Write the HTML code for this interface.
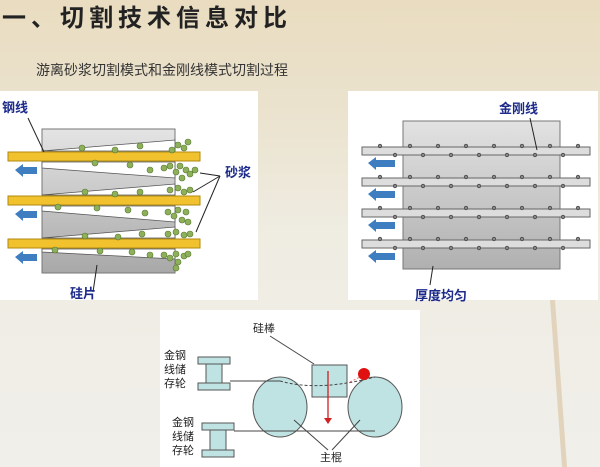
<!DOCTYPE html>
<html><head><meta charset="utf-8"><style>
html,body{margin:0;padding:0}
body{width:600px;height:467px;overflow:hidden;position:relative;font-family:"Liberation Sans","Noto Sans CJK SC",sans-serif;
background:linear-gradient(180deg,#e9dcc0 0%,#ebe3cf 25%,#efece2 50%,#f0efea 100%);}
.t{position:absolute;white-space:nowrap}
</style></head><body>
<div class="t" style="left:2px;top:-2px;font-size:24px;font-weight:bold;color:#222;letter-spacing:5px">一、切割技术信息对比</div>
<div class="t" style="left:36px;top:60px;font-size:14px;color:#333">游离砂浆切割模式和金刚线模式切割过程</div>
<svg width="600" height="467" style="position:absolute;left:0;top:0">
<defs>
<linearGradient id="g1" x1="0" y1="0" x2="0" y2="1"><stop offset="0" stop-color="#e4e4e4"/><stop offset="1" stop-color="#a8a8a8"/></linearGradient>
<linearGradient id="g2" x1="0" y1="0" x2="0" y2="1"><stop offset="0" stop-color="#e2e2e2"/><stop offset="1" stop-color="#b0b0b0"/></linearGradient>
</defs>
<!-- stem -->
<path d="M550 300 L555 300 L567 467 L562 467 Z" fill="#e2d4bc"/>
<!-- left panel -->
<rect x="0" y="91" width="258" height="209" fill="#fff"/>
<rect x="42" y="129" width="133" height="144" fill="url(#g1)" stroke="#777"/>
<g fill="#fff" stroke="#555" stroke-width="0.8">
<polygon points="42,151 175,140 175,151"/>
<polygon points="42,162 175,162 175,178 42,168"/>
<polygon points="42,195 175,184 175,195"/>
<polygon points="42,206 175,206 175,222 42,211"/>
<polygon points="42,238 175,227 175,238"/>
<polygon points="42,249 175,249 175,259 42,252"/>
</g>
<g fill="#f2c12e" stroke="#b08a10" stroke-width="1">
<rect x="8" y="152" width="192" height="9"/>
<rect x="8" y="196" width="192" height="9"/>
<rect x="8" y="239" width="192" height="9"/>
</g>
<g fill="#3d7dc0">
<polygon points="15,170 23,164 23,167 37,167 37,174 23,174 23,177"/>
<polygon points="15,214 23,208 23,211 37,211 37,218 23,218 23,221"/>
<polygon points="15,257 23,251 23,254 37,254 37,261 23,261 23,264"/>
</g>
<g fill="#8db05a" stroke="#5a7a30" stroke-width="0.6">
<circle cx="178" cy="145" r="3"/><circle cx="184" cy="148" r="3"/><circle cx="172" cy="150" r="3"/><circle cx="188" cy="142" r="3"/><circle cx="180" cy="166" r="3"/><circle cx="186" cy="170" r="3"/><circle cx="176" cy="172" r="3"/><circle cx="190" cy="174" r="3"/><circle cx="182" cy="178" r="3"/><circle cx="170" cy="166" r="3"/><circle cx="164" cy="168" r="3"/><circle cx="195" cy="170" r="3"/>
<circle cx="178" cy="188" r="3"/><circle cx="184" cy="192" r="3"/><circle cx="170" cy="190" r="3"/><circle cx="190" cy="190" r="3"/><circle cx="178" cy="210" r="3"/><circle cx="186" cy="212" r="3"/><circle cx="174" cy="216" r="3"/><circle cx="182" cy="220" r="3"/><circle cx="168" cy="212" r="3"/><circle cx="188" cy="222" r="3"/>
<circle cx="176" cy="232" r="3"/><circle cx="184" cy="235" r="3"/><circle cx="168" cy="234" r="3"/><circle cx="190" cy="234" r="3"/><circle cx="176" cy="254" r="3"/><circle cx="184" cy="256" r="3"/><circle cx="170" cy="258" r="3"/><circle cx="178" cy="262" r="3"/><circle cx="164" cy="255" r="3"/><circle cx="188" cy="254" r="3"/><circle cx="176" cy="268" r="3"/>
<circle cx="82" cy="148" r="3"/><circle cx="115" cy="150" r="3"/><circle cx="140" cy="146" r="3"/><circle cx="95" cy="163" r="3"/><circle cx="130" cy="165" r="3"/><circle cx="150" cy="170" r="3"/>
<circle cx="85" cy="192" r="3"/><circle cx="115" cy="194" r="3"/><circle cx="140" cy="192" r="3"/><circle cx="58" cy="207" r="3"/><circle cx="97" cy="208" r="3"/><circle cx="128" cy="210" r="3"/><circle cx="145" cy="213" r="3"/>
<circle cx="85" cy="236" r="3"/><circle cx="118" cy="237" r="3"/><circle cx="142" cy="234" r="3"/><circle cx="55" cy="250" r="3"/><circle cx="100" cy="251" r="3"/><circle cx="132" cy="252" r="3"/><circle cx="150" cy="255" r="3"/>
</g>
<g stroke="#222" stroke-width="1" fill="none">
<line x1="28" y1="118" x2="44" y2="152"/>
<line x1="220" y1="176" x2="200" y2="173"/><line x1="220" y1="176" x2="193" y2="192"/><line x1="220" y1="176" x2="196" y2="232"/>
<line x1="93" y1="292" x2="97" y2="265"/>
</g>
<!-- right panel -->
<rect x="348" y="91" width="250" height="209" fill="#fff"/>
<rect x="403" y="121" width="157" height="148" fill="url(#g2)" stroke="#777"/>
<g fill="#ddd" stroke="#666" stroke-width="1">
<rect x="362" y="147" width="228" height="8"/>
<rect x="362" y="178" width="228" height="8"/>
<rect x="362" y="209" width="228" height="8"/>
<rect x="362" y="240" width="228" height="8"/>
</g>
<g fill="#888" stroke="#333" stroke-width="0.6" id="beads">
<circle cx="380" cy="146" r="1.8"/><circle cx="395" cy="155" r="1.8"/><circle cx="410" cy="146" r="1.8"/><circle cx="423" cy="155" r="1.8"/><circle cx="438" cy="146" r="1.8"/><circle cx="451" cy="155" r="1.8"/><circle cx="466" cy="146" r="1.8"/><circle cx="479" cy="155" r="1.8"/><circle cx="494" cy="146" r="1.8"/><circle cx="507" cy="155" r="1.8"/><circle cx="522" cy="146" r="1.8"/><circle cx="535" cy="155" r="1.8"/><circle cx="550" cy="146" r="1.8"/><circle cx="563" cy="155" r="1.8"/><circle cx="578" cy="146" r="1.8"/>
</g>
<use href="#beads" y="31"/><use href="#beads" y="62"/><use href="#beads" y="93"/>
<g fill="#3d7dc0">
<polygon points="368,163 376,157 376,160 395,160 395,167 376,167 376,170"/>
<polygon points="368,194 376,188 376,191 395,191 395,198 376,198 376,201"/>
<polygon points="368,225 376,219 376,222 395,222 395,229 376,229 376,232"/>
<polygon points="368,256 376,250 376,253 395,253 395,260 376,260 376,263"/>
</g>
<g stroke="#222" stroke-width="1"><line x1="530" y1="118" x2="537" y2="150"/><line x1="430" y1="285" x2="433" y2="266"/></g>
<!-- bottom panel -->
<rect x="160" y="310" width="260" height="157" fill="#fff"/>
<g fill="#bfe3e3" stroke="#555" stroke-width="1">
<rect x="198" y="357" width="32" height="7"/><rect x="206" y="364" width="16" height="19"/><rect x="198" y="383" width="32" height="7"/>
<rect x="202" y="423" width="32" height="7"/><rect x="210" y="430" width="16" height="20"/><rect x="202" y="450" width="32" height="7"/>
<ellipse cx="280" cy="407" rx="27" ry="30"/><ellipse cx="375" cy="407" rx="27" ry="30"/>
<rect x="312" y="365" width="35" height="32"/>
</g>
<g stroke="#444" stroke-width="1" fill="none">
<line x1="230" y1="381" x2="280" y2="381"/>
<line x1="234" y1="431" x2="375" y2="431"/>
<path d="M280 381 Q318 392 375 377" stroke-dasharray="3,2"/>
<line x1="270" y1="336" x2="314" y2="364"/>
<line x1="328" y1="450" x2="294" y2="420"/><line x1="332" y1="450" x2="360" y2="420"/>
</g>
<line x1="328" y1="371" x2="328" y2="420" stroke="#d02020" stroke-width="1.3"/>
<polygon points="324,418 332,418 328,424" fill="#d02020"/>
<line x1="350" y1="382" x2="362" y2="376" stroke="#e07070" stroke-dasharray="2,2"/>
<circle cx="364" cy="374" r="6" fill="#e01010"/>
</svg>
<div class="t" style="left:2px;top:97px;font-size:13px;font-weight:bold;color:#1c2a8a">钢线</div>
<div class="t" style="left:225px;top:162px;font-size:13px;font-weight:bold;color:#1c2a8a">砂浆</div>
<div class="t" style="left:70px;top:283px;font-size:13px;font-weight:bold;color:#1c2a8a">硅片</div>
<div class="t" style="left:499px;top:98px;font-size:13px;font-weight:bold;color:#1c2a8a">金刚线</div>
<div class="t" style="left:415px;top:285px;font-size:13px;font-weight:bold;color:#1c2a8a">厚度均匀</div>
<div class="t" style="left:253px;top:320px;font-size:11px;color:#222">硅棒</div>
<div class="t" style="left:320px;top:449px;font-size:11px;color:#222">主棍</div>
<div class="t" style="left:164px;top:349px;font-size:11px;line-height:14px;color:#222;white-space:normal;width:24px">金钢线储存轮</div>
<div class="t" style="left:172px;top:416px;font-size:11px;line-height:14px;color:#222;white-space:normal;width:24px">金钢线储存轮</div>
</body></html>
